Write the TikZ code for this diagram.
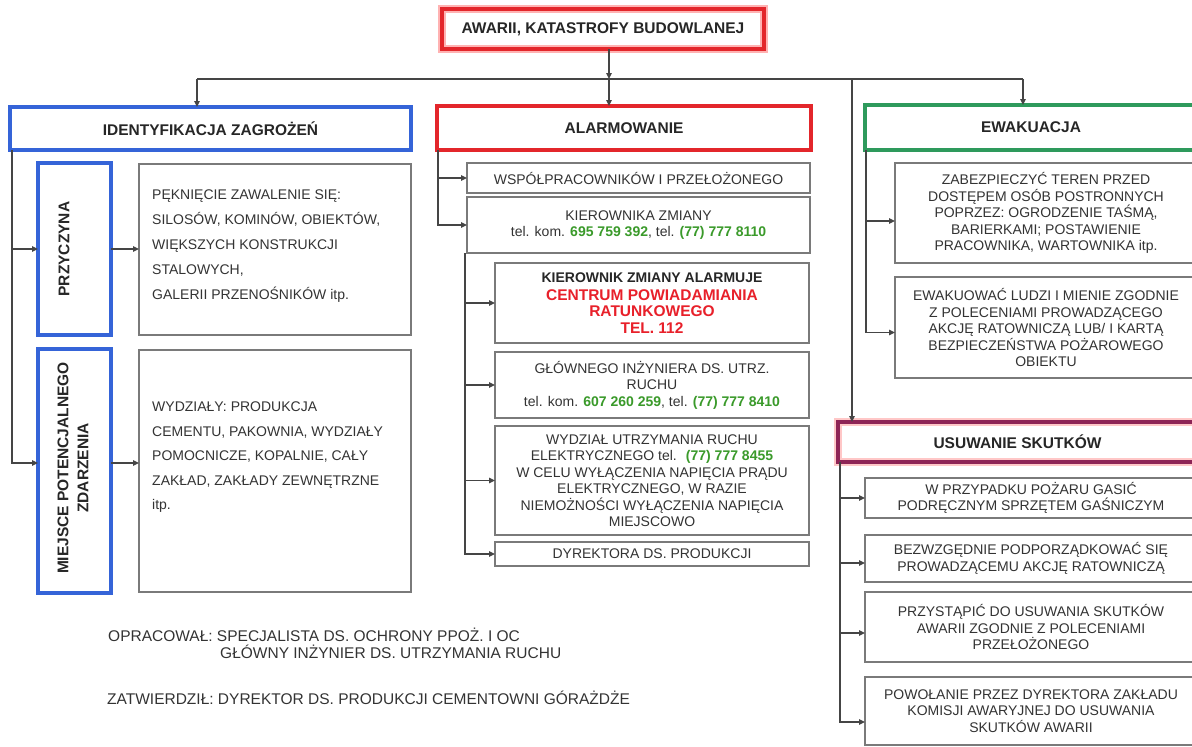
\documentclass[tikz,border=0pt]{standalone}
\usepackage{fontspec}
\setmainfont{Liberation Sans}
\usetikzlibrary{arrows.meta}
\definecolor{cblue}{HTML}{3564D8}
\definecolor{cred}{HTML}{E3262B}
\definecolor{cgreen}{HTML}{2E9A5C}
\definecolor{cmaroon}{HTML}{8E2456}
\definecolor{cgrey}{HTML}{7A7A7A}
\definecolor{cline}{HTML}{454545}
\definecolor{ctext}{HTML}{333333}
\definecolor{cphone}{HTML}{3A9A2A}
\definecolor{cred2}{HTML}{E8202A}
\newcommand\fs{\fontsize{14}{16.5}\selectfont}
\newcommand\fh{\fontsize{15.5}{18}\selectfont\bfseries}
\newcommand\ph[1]{\textbf{\color{cphone}#1}}
\newcommand\rl[1]{{\fh\color{cred2}#1}}
\newcommand\mkbox[7]{\node[#1, anchor=north west, minimum width={(#5-#3)*1pt}, minimum height={(#6-#4)*1pt}] (#2) at (#3,#4) {#7};}
\tikzset{
  basebox/.style={rectangle, inner sep=0pt, outer sep=0pt, align=center},
  hdr/.style={basebox, line width=3.5pt, font=\fh, text=black!85},
  gbox/.style={basebox, draw=cgrey, line width=1.7pt, font=\fs, text=ctext},
  conn/.style={draw=cline, line width=1.3pt},
  arr/.style={conn, -{Triangle[length=6pt,width=5.5pt]}},
  rot/.style={rotate=90, font=\fh, align=center, inner sep=0pt, text=black!85},
  foot/.style={font=\fontsize{15.5}{17}\selectfont, text=ctext, inner sep=0pt, anchor=base west}
}
\begin{document}
\begin{tikzpicture}[x=1pt,y=-1pt]
\useasboundingbox (0,0) rectangle (1192,747);
\clip (0,0) rectangle (1192,747);
\fill[white] (0,0) rectangle (1192,747);
% top and header boxes
\mkbox{hdr, draw=cred, line width=4pt, preaction={draw=red!30, line width=8pt}}{top}{442}{9}{764}{49}{AWARII, KATASTROFY BUDOWLANEJ}
\mkbox{hdr, draw=cblue}{ident}{10}{107}{411}{150}{IDENTYFIKACJA ZAGROŻEŃ}
\mkbox{hdr, draw=cred}{alarm}{437}{106}{811}{150}{ALARMOWANIE}
\mkbox{hdr, draw=cgreen}{ewak}{865}{105}{1197}{150}{EWAKUACJA}
\mkbox{hdr, draw=cmaroon, line width=4pt, preaction={draw=red!22, line width=8pt}}{usuw}{838}{422}{1197}{462}{USUWANIE SKUTKÓW}
% left column
\mkbox{hdr, draw=cblue}{przy}{38}{163}{111}{335}{}
\mkbox{hdr, draw=cblue}{miej}{38}{349}{111}{593}{}
\node[rot] (przyT) at (64,249) {PRZYCZYNA};
\node[rot, font=\fontsize{15.5}{20}\selectfont\bfseries] (miejT) at (73,468) {MIEJSCE POTENCJALNEGO\\ZDARZENIA};
\mkbox{gbox}{t1}{139}{164}{411}{335}{}
\mkbox{gbox}{t2}{139}{350}{411}{592}{}
\node[font=\fontsize{14}{24.8}\selectfont, text=ctext, align=left, inner sep=0pt, anchor=north west] (t1T) at (152,190)
  {PĘKNIĘCIE ZAWALENIE SIĘ:\\SILOSÓW, KOMINÓW, OBIEKTÓW,\\WIĘKSZYCH KONSTRUKCJI\\STALOWYCH,\\GALERII PRZENOŚNIKÓW itp.};
\node[font=\fontsize{14}{24.5}\selectfont, text=ctext, align=left, inner sep=0pt, anchor=north west] (t2T) at (152,402)
  {WYDZIAŁY: PRODUKCJA\\CEMENTU, PAKOWNIA, WYDZIAŁY\\POMOCNICZE, KOPALNIE, CAŁY\\ZAKŁAD, ZAKŁADY ZEWNĘTRZNE\\itp.};
% middle column
\mkbox{gbox}{wsp}{467}{163}{810}{193}{WSPÓŁPRACOWNIKÓW I PRZEŁOŻONEGO}
\mkbox{gbox}{kier}{467}{197}{810}{253}{KIEROWNIKA ZMIANY\\tel. kom. \ph{695 759 392}, tel. \ph{(77) 777 8110}}
\mkbox{gbox}{alar2}{495}{263}{809}{343}{\textbf{\color{black!85}KIEROWNIK ZMIANY ALARMUJE}\\[1.5pt]\rl{CENTRUM POWIADAMIANIA}\\\rl{RATUNKOWEGO}\\\rl{TEL. 112}}
\mkbox{gbox}{glow}{495}{352}{809}{418}{GŁÓWNEGO INŻYNIERA DS. UTRZ.\\RUCHU\\tel. kom. \ph{607 260 259}, tel. \ph{(77) 777 8410}}
\mkbox{gbox}{wydz}{495}{426}{809}{535}{WYDZIAŁ UTRZYMANIA RUCHU\\ELEKTRYCZNEGO tel. \ \ph{(77) 777 8455}\\W CELU WYŁĄCZENIA NAPIĘCIA PRĄDU\\ELEKTRYCZNEGO, W RAZIE\\NIEMOŻNOŚCI WYŁĄCZENIA NAPIĘCIA\\MIEJSCOWO}
\mkbox{gbox}{dyr}{495}{542}{809}{566}{DYREKTORA DS. PRODUKCJI}
% right column
\mkbox{gbox}{e1}{895}{163}{1197}{263}{ZABEZPIECZYĆ TEREN PRZED\\DOSTĘPEM OSÓB POSTRONNYCH\\POPRZEZ: OGRODZENIE TAŚMĄ,\\BARIERKAMI; POSTAWIENIE\\PRACOWNIKA, WARTOWNIKA itp.}
\mkbox{gbox}{e2}{895}{277}{1197}{378}{EWAKUOWAĆ LUDZI I MIENIE ZGODNIE\\Z POLECENIAMI PROWADZĄCEGO\\AKCJĘ RATOWNICZĄ LUB/ I KARTĄ\\BEZPIECZEŃSTWA POŻAROWEGO\\OBIEKTU}
\mkbox{gbox}{u1}{865}{478}{1197}{518}{W PRZYPADKU POŻARU GASIĆ\\PODRĘCZNYM SPRZĘTEM GAŚNICZYM}
\mkbox{gbox}{u2}{865}{535}{1197}{582}{BEZWZGĘDNIE PODPORZĄDKOWAĆ SIĘ\\PROWADZĄCEMU AKCJĘ RATOWNICZĄ}
\mkbox{gbox}{u3}{865}{592}{1197}{662}{PRZYSTĄPIĆ DO USUWANIA SKUTKÓW\\AWARII ZGODNIE Z POLECENIAMI\\PRZEŁOŻONEGO}
\mkbox{gbox}{u4}{865}{677}{1197}{745}{POWOŁANIE PRZEZ DYREKTORA ZAKŁADU\\KOMISJI AWARYJNEJ DO USUWANIA\\SKUTKÓW AWARII}
% footer
\node[foot] (f1) at (108,641) {OPRACOWAŁ: SPECJALISTA DS. OCHRONY PPOŻ. I OC};
\node[foot] (f2) at (220,658) {GŁÓWNY INŻYNIER DS. UTRZYMANIA RUCHU};
\node[foot] (f3) at (107,704) {ZATWIERDZIŁ: DYREKTOR DS. PRODUKCJI CEMENTOWNI GÓRAŻDŻE};
% connectors top
\coordinate (jA) at (609,79);
\coordinate (jL) at (197,79);
\coordinate (jR) at (1023,79);
\coordinate (jU) at (852,79);
\draw[conn] (jL) -- (jR);
\draw[arr] (top.south -| jA) -- (jA);
\draw[arr] (jA) -- (jA |- alarm.north);
\draw[arr] (jL) -- (jL |- ident.north);
\draw[arr] (jR) -- (jR |- ewak.north);
\draw[arr] (jU) -- (jU |- usuw.north);
% left connectors
\coordinate (lA) at ([xshift=2pt]ident.south west);
\draw[arr] (lA) |- (przy.west);
\draw[arr] (lA) |- ([yshift=8pt]miej.west);
\draw[arr] (przy.east) -- (przy.east -| t1.west);
\draw[arr] ([yshift=8pt]miej.east) -- ([yshift=8pt]miej.east -| t2.west);
% middle connectors
\coordinate (mA) at ([xshift=1pt]alarm.south west);
\draw[arr] (mA) |- (wsp.west);
\draw[arr] (mA) |- (kier.west);
\coordinate (mB) at ([xshift=-2pt]kier.south west);
\draw[arr] (mB) |- (alar2.west);
\draw[arr] (mB) |- (glow.west);
\draw[arr] (mB) |- (wydz.west);
\draw[arr] (mB) |- (dyr.west);
% right connectors
\coordinate (eA) at ([xshift=1pt]ewak.south west);
\draw[arr] (eA) |- ([yshift=-8pt]e1.west);
\draw[arr] (eA) |- ([yshift=-5pt]e2.west);
\coordinate (uA) at ([xshift=2pt]usuw.south west);
\draw[arr] (uA) |- (u1.west);
\draw[arr] (uA) |- ([yshift=-4.5pt]u2.west);
\draw[arr] (uA) |- ([yshift=-6pt]u3.west);
\draw[arr] (uA) |- ([yshift=-11pt]u4.west);
\end{tikzpicture}
\end{document}
